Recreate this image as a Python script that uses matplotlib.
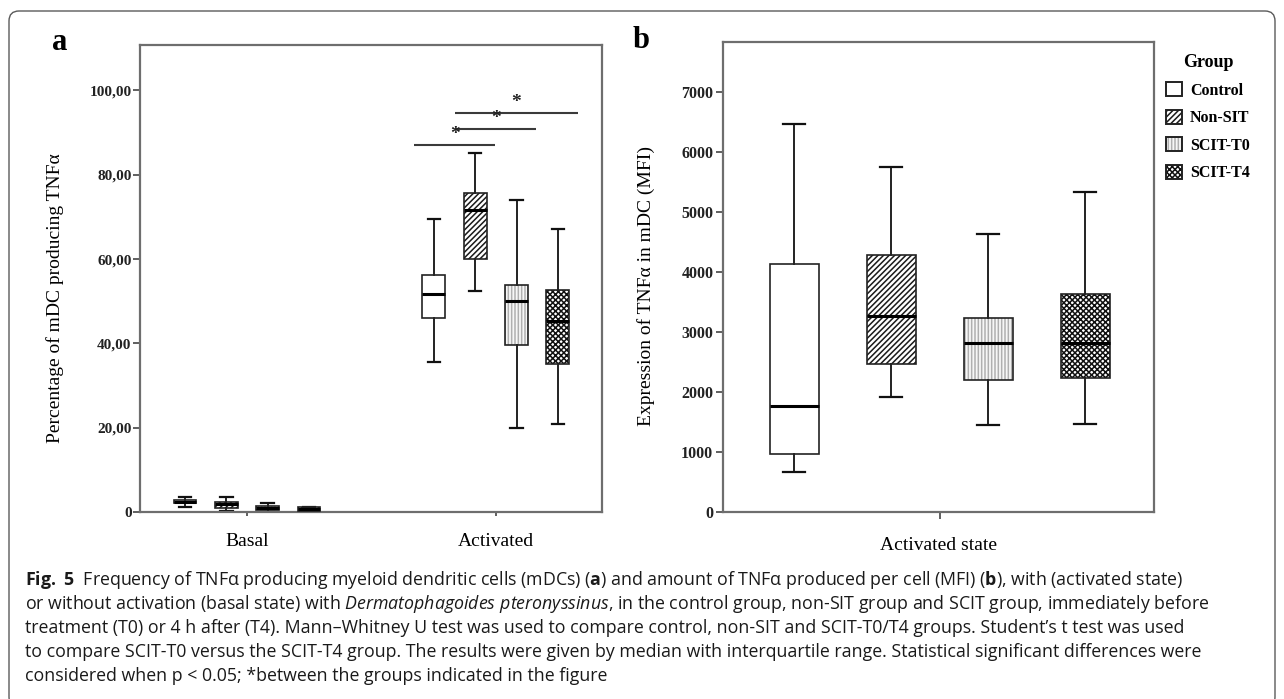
import matplotlib
matplotlib.use('Agg')
import matplotlib.pyplot as plt
from matplotlib import font_manager
from matplotlib.patches import FancyBboxPatch, Patch, PathPatch
from matplotlib.legend_handler import HandlerTuple

groups = ['Control', 'Non-SIT', 'SCIT-T0', 'SCIT-T4']
states = ['Basal', 'Activated']

# panel a, % of mDC producing TNFa (whisker low, q1, median, q3, whisker high)
basal_low = [1.3, 0.4, 0.15, 0.25]
basal_q1 = [2.1, 0.95, 0.55, 0.4]
basal_med = [2.5, 2.0, 0.95, 0.8]
basal_q3 = [2.9, 2.5, 1.5, 1.2]
basal_high = [3.7, 3.7, 2.3, 1.3]

act_low = [35.7, 52.4, 20.0, 20.8]
act_q1 = [46.0, 60.1, 39.7, 35.1]
act_med = [51.7, 71.5, 50.1, 45.4]
act_q3 = [56.3, 75.6, 53.8, 52.7]
act_high = [69.6, 85.0, 73.9, 67.2]

# panel b, MFI activated state
mfi_low = [667, 1921, 1440, 1468]
mfi_q1 = [957, 2472, 2196, 2230]
mfi_med = [1772, 3273, 2809, 2820]
mfi_q3 = [4134, 4283, 3234, 3637]
mfi_high = [6479, 5756, 4641, 5342]

a_ticks = [0, 20, 40, 60, 80, 100]
a_ticklabels = ['0', '20,00', '40,00', '60,00', '80,00', '100,00']
b_ticks = [0, 1000, 2000, 3000, 4000, 5000, 6000, 7000]
b_ticklabels = [str(t) for t in b_ticks]

# significance brackets in the activated group (group index pairs)
sig_pairs = [(0, 1), (1, 2), (1, 3)]
sig_y = [86.9, 90.8, 94.6]

caption = [
    r"$\mathbf{Fig.\ 5}$  Frequency of TNFα producing myeloid dendritic cells (mDCs) ($\mathbf{a}$) and amount of TNFα produced per cell (MFI) ($\mathbf{b}$), with (activated state)",
    r"or without activation (basal state) with $\mathit{Dermatophagoides\ pteronyssinus}$, in the control group, non-SIT group and SCIT group, immediately before",
    "treatment (T0) or 4 h after (T4). Mann–Whitney U test was used to compare control, non-SIT and SCIT-T0/T4 groups. Student’s t test was used",
    "to compare SCIT-T0 versus the SCIT-T4 group. The results were given by median with interquartile range. Statistical significant differences were",
    "considered when p < 0.05; *between the groups indicated in the figure",
]


def pick(names):
    for n in names:
        try:
            font_manager.findfont(n, fallback_to_default=False)
            return n
        except ValueError:
            continue
    return 'DejaVu Sans'


cap_font = pick(['Liberation Sans Narrow', 'Open Sans', 'Noto Sans'])
serif = pick(['Liberation Serif', 'DejaVu Serif'])

plt.rcParams['font.family'] = [serif, 'DejaVu Serif']
plt.rcParams['mathtext.fontset'] = 'custom'
plt.rcParams['mathtext.rm'] = cap_font
plt.rcParams['mathtext.bf'] = cap_font + ':bold'
plt.rcParams['mathtext.it'] = cap_font + ':italic'
plt.rcParams['hatch.linewidth'] = 1.1

fills = ['white', 'white', '#f7f7f7', 'white']
hatches = [None, '//////', '|||||', 'xxxxxx']
hatch_cols = ['black', '#1a1a1a', '#b0b0b0', '#111111']


def draw_boxes(ax, low, q1, med, q3, high, positions, width, capw):
    stats = [dict(whislo=a, q1=b, med=c, q3=d, whishi=e, fliers=[])
             for a, b, c, d, e in zip(low, q1, med, q3, high)]
    bp = ax.bxp(stats, positions=positions, widths=width, capwidths=capw,
                patch_artist=True, showfliers=False, manage_ticks=False,
                whiskerprops=dict(color='#111', lw=1.3),
                capprops=dict(color='#111', lw=1.6),
                medianprops=dict(color='black', lw=2.2, zorder=5))
    for patch, fc, h, hc in zip(bp['boxes'], fills, hatches, hatch_cols):
        patch.set_facecolor(fc)
        patch.set_edgecolor(hc)
        patch.set_linewidth(0)
        if h:
            patch.set_hatch(h)
        outline = PathPatch(patch.get_path(), transform=patch.get_transform(),
                            fill=False, ec='#222', lw=1.2, zorder=4)
        ax.add_patch(outline)
    return bp


def style_axes(ax, col):
    for s in ax.spines.values():
        s.set_color(col)
        s.set_linewidth(1.6)


fig = plt.figure(figsize=(12.84, 6.99), dpi=100)

# outer rounded frame
frame = FancyBboxPatch((0.09, -0.08), 12.66, 6.96,
                       boxstyle='round,pad=0,rounding_size=0.1',
                       transform=fig.dpi_scale_trans, fill=False,
                       ec='#5a5a5a', lw=1.0, clip_on=False)
fig.patches.append(frame)

# ---------------- panel a
ax_a = fig.add_axes([0.1090, 0.2671, 0.3598, 0.6685])
offs = [-1.5, -0.5, 0.5, 1.5]
step = 0.166
basal_pos = [1 + o * step for o in offs]
act_pos = [2 + o * step for o in offs]
draw_boxes(ax_a, basal_low, basal_q1, basal_med, basal_q3, basal_high,
           basal_pos, 0.092, 0.05)
draw_boxes(ax_a, act_low, act_q1, act_med, act_q3, act_high,
           act_pos, 0.092, 0.05)

pad = 0.08
for (i, j), y in zip(sig_pairs, sig_y):
    x0, x1 = act_pos[i] - pad, act_pos[j] + pad
    ax_a.plot([x0, x1], [y, y], color='#3a3a3a', lw=1.5, solid_capstyle='butt')
    ax_a.text((x0 + x1) / 2, y + 0.5, '*', ha='center', va='bottom',
              fontsize=14, fontweight='bold', color='#222')

ax_a.set_xlim(0.570, 2.426)
ax_a.set_ylim(0, 110.7)
ax_a.set_yticks(a_ticks)
ax_a.set_yticklabels(a_ticklabels, fontsize=11, fontweight='bold', color='#222')
ax_a.set_xticks([1, 2])
ax_a.set_xticklabels(states, fontsize=14)
ax_a.tick_params(axis='y', length=5, width=1.2, pad=1, color='#444')
ax_a.tick_params(axis='x', length=3, width=1.2, pad=12, color='#444')
ax_a.set_ylabel('Percentage of mDC producing TNFα', fontsize=14)
ax_a.yaxis.set_label_coords(-0.165, 0.459)
style_axes(ax_a, '#6e6e6e')
fig.text(60 / 1284, 1 - 42 / 699, 'a', fontsize=22, fontweight='bold',
         ha='center', va='center')

# ---------------- panel b
ax_b = fig.add_axes([0.5631, 0.2680, 0.3357, 0.6712])
mfi_pos = [1, 2, 3, 4]
draw_boxes(ax_b, mfi_low, mfi_q1, mfi_med, mfi_q3, mfi_high,
           mfi_pos, 0.505, 0.23)
ax_b.set_xlim(0.268, 4.711)
ax_b.set_ylim(0, 7833)
ax_b.set_yticks(b_ticks)
ax_b.set_yticklabels(b_ticklabels, fontsize=11.5, fontweight='bold', color='#222')
ax_b.set_xticks([2.5])
ax_b.set_xticklabels([''])
ax_b.tick_params(axis='y', length=5, width=1.2, pad=2, color='#444')
ax_b.tick_params(axis='x', length=5, width=1.2, color='#444')
ax_b.set_xlabel('Activated state', fontsize=14)
ax_b.xaxis.set_label_coords(0.5, -0.055)
ax_b.set_ylabel('Expression of TNFα in mDC (MFI)', fontsize=14)
ax_b.yaxis.set_label_coords(-0.158, 0.481)
style_axes(ax_b, '#6e6e6e')
fig.text(641 / 1284, 1 - 40 / 699, 'b', fontsize=22, fontweight='bold',
         ha='center', va='center')

handles = []
for fc, h, hc in zip(fills, hatches, hatch_cols):
    handles.append((Patch(facecolor=fc, edgecolor=hc, hatch=h, lw=0),
                    Patch(facecolor='none', edgecolor='#222', lw=1.4)))
leg = ax_b.legend(handles, groups, title='Group', loc='upper left',
                  bbox_to_anchor=(1.028, 0.975), frameon=False,
                  handlelength=1.0, handleheight=1.0, handletextpad=0.5,
                  labelspacing=0.68, borderaxespad=0, borderpad=0,
                  prop=dict(family=serif, weight='bold', size=11.5),
                  title_fontproperties=dict(family=serif, weight='bold', size=13),
                  handler_map={tuple: HandlerTuple(ndivide=1)})

# ---------------- caption
cap_texts = []
for k, line in enumerate(caption):
    t = fig.text(25 / 1284, 1 - (580 + 24 * k) / 699, line,
                 family=[cap_font, 'DejaVu Sans'], fontsize=13,
                 ha='left', va='center', color='#1a1a1a')
    cap_texts.append(t)

fig.canvas.draw()
r = fig.canvas.get_renderer()
w = max(t.get_window_extent(r).width for t in cap_texts)
scale = 1182 / w
for t in cap_texts:
    t.set_fontsize(13 * scale)

fig.savefig('out.png', dpi=100)
